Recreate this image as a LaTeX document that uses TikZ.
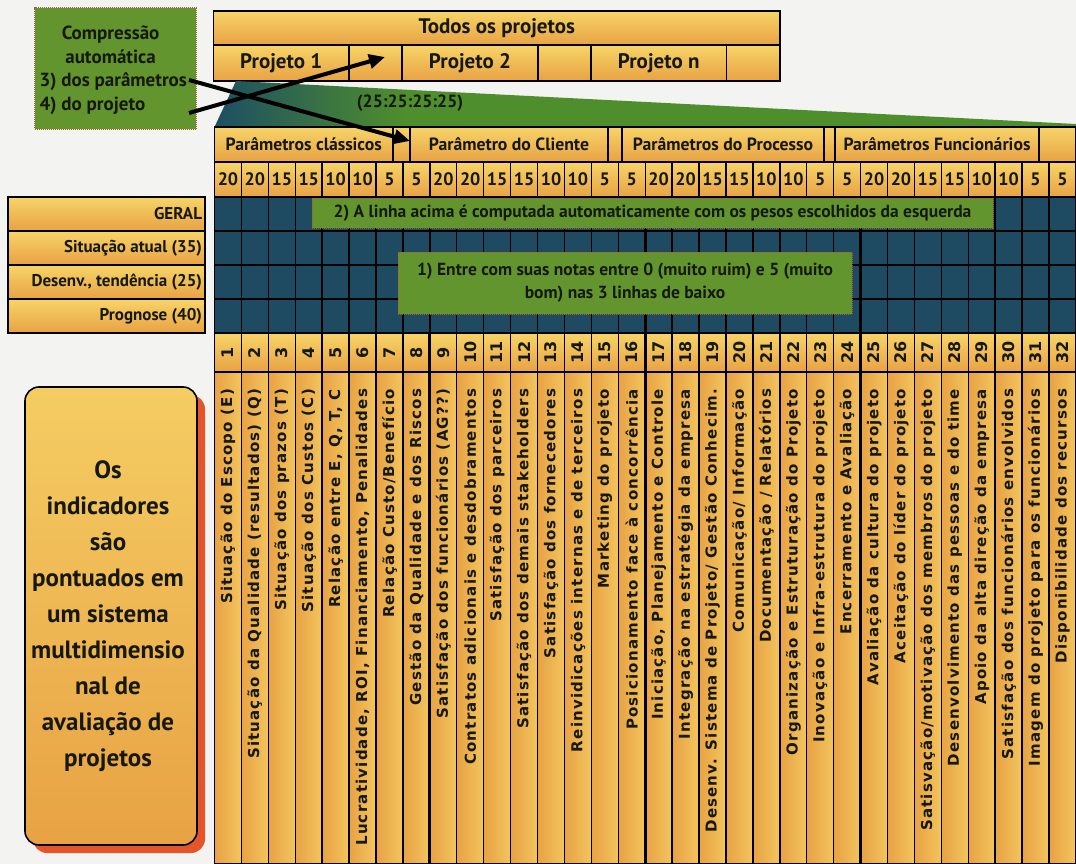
\documentclass[tikz,border=0pt]{standalone}
\usepackage{fontspec}
\setmainfont{PT Sans}
\newfontfamily\colfont[LetterSpace=8]{DejaVu Sans}
\newfontfamily\digitfont{DejaVu Sans}
\usetikzlibrary{arrows.meta,calc}

\definecolor{paper}{HTML}{F3F3F1}
\definecolor{gold}{HTML}{F7D468}
\definecolor{amber}{HTML}{E8A244}
\definecolor{gridblue}{HTML}{1E4A62}
\definecolor{leaf}{HTML}{63952F}
\definecolor{rust}{HTML}{B5563A}
\definecolor{deepteal}{HTML}{1C4F63}
\definecolor{grass}{HTML}{4F8E2C}
\definecolor{ember}{HTML}{E4562A}
\definecolor{ink}{HTML}{15180A}

% horizontal fade from deep teal into grass green for the wedge
\pgfdeclarehorizontalshading{wedgefade}{100bp}{color(0bp)=(deepteal); color(25bp)=(deepteal); color(36bp)=(grass); color(100bp)=(grass)}

\begin{document}
\begin{tikzpicture}[x=1pt,y=-1pt,
  every node/.style={inner sep=0pt, outer sep=0pt},
  goldcell/.style={draw=black, line width=1.4pt, top color=gold, bottom color=amber, anchor=north west},
  darkcell/.style={draw=black, line width=1.4pt, fill=gridblue, anchor=north west},
  colcell/.style={draw=black, line width=1.4pt, left color=amber, right color=gold!70!amber, anchor=north west},
  leafnote/.style={draw=rust, densely dotted, line width=1pt, fill=leaf, anchor=north west},
  notetext/.style={text=ink, font=\bfseries\fontsize{17.5}{23}\selectfont},
  headtext/.style={font=\bfseries\fontsize{21}{21}\selectfont, text=ink},
  paramtext/.style={font=\bfseries\fontsize{17.7}{17.7}\selectfont, text=ink},
  numtext/.style={font=\bfseries\fontsize{18}{18}\selectfont, text=ink},
  rowtext/.style={font=\bfseries\fontsize{17}{17}\selectfont, text=ink},
  coltext/.style={font=\colfont\bfseries\fontsize{15}{15}\selectfont, text=ink},
  idxtext/.style={font=\digitfont\bfseries\fontsize{16}{16}\selectfont, text=ink},
  pointer/.style={line width=4pt, -{Triangle[length=16pt,width=14pt]}},
]
\useasboundingbox (0,0) rectangle (1076,864);
\fill[paper] (0,0) rectangle (1076,864);

% ---------- project header ----------
\node[goldcell, minimum width=566.5, minimum height=34] (todos) at (213.5,11) {};
\node[headtext] (todoslbl) at (todos.center) {Todos os projetos};
\node[goldcell, minimum width=135.5, minimum height=36] (proj1) at (213.5,45) {};
\node[goldcell, minimum width=53, minimum height=36] (gap1) at (349,45) {};
\node[goldcell, minimum width=136, minimum height=36] (proj2) at (402,45) {};
\node[goldcell, minimum width=53, minimum height=36] (gap2) at (538,45) {};
\node[goldcell, minimum width=135.5, minimum height=36] (projn) at (591,45) {};
\node[goldcell, minimum width=53.5, minimum height=36] (gapn) at (726.5,45) {};
\node[headtext] at (proj1.center) {Projeto 1};
\node[headtext] at (proj2.center) {Projeto 2};
\node[headtext] at (projn.center) {Projeto n};

% ---------- wedge opening towards the parameters ----------
\shade[shading=wedgefade] (236,81) -- (1076,124) -- (1076,127) -- (214.5,127) -- cycle;
\node[paramtext] (ratio) at (410,103) {(25:25:25:25)};

% ---------- parameter groups ----------
\node[goldcell, minimum width=178.5, minimum height=35] (pclass) at (214.5,127) {};
\node[goldcell, minimum width=17, minimum height=35] (pgap1) at (393,127) {};
\node[goldcell, minimum width=198, minimum height=35] (pclient) at (410,127) {};
\node[goldcell, minimum width=14, minimum height=35] (pgap2) at (608,127) {};
\node[goldcell, minimum width=202, minimum height=35] (pproc) at (622,127) {};
\node[goldcell, minimum width=11, minimum height=35] (pgap3) at (824,127) {};
\node[goldcell, minimum width=204, minimum height=35] (pfunc) at (835,127) {};
\node[goldcell, minimum width=37, minimum height=35] (pgap4) at (1039,127) {};
\node[paramtext] at (pclass.center) {Parâmetros clássicos};
\node[paramtext] at (pclient.center) {Parâmetro do Cliente};
\node[paramtext] at (pproc.center) {Parâmetros do Processo};
\node[paramtext] at (pfunc.center) {Parâmetros Funcionários};

% ---------- weights ----------
\foreach \v [count=\i] in {20,20,15,15,10,10,5,5,20,20,15,15,10,10,5,5,20,20,15,15,10,10,5,5,20,20,15,15,10,10,5,5}{
  \pgfmathsetmacro\xa{214.5+(\i-1)*26.92}
  \node[goldcell, minimum width=26.92, minimum height=35] (w\i) at (\xa,162) {};
  \node[numtext] at (w\i.center) {\v};
}

% ---------- row captions ----------
\foreach \t [count=\r] in {GERAL,Situação atual (35),{Desenv., tendência (25)},Prognose (40)}{
  \pgfmathsetmacro\ya{197+(\r-1)*34}
  \node[goldcell, minimum width=197, minimum height=34] (row\r) at (8,\ya) {};
  \node[rowtext, anchor=east] at ($(row\r.east)+(-3,0)$) {\t};
}

% ---------- score grid ----------
\foreach \r in {1,...,4}{
  \foreach \i in {1,...,32}{
    \pgfmathsetmacro\xa{214.5+(\i-1)*26.92}
    \pgfmathsetmacro\ya{197+(\r-1)*34}
    \node[darkcell, minimum width=26.92, minimum height=34] (g\r-\i) at (\xa,\ya) {};
  }
}

% ---------- indicator numbers and names ----------
\foreach \t [count=\i] in {
  {Situação do Escopo (E)},
  {Situação da Qualidade (resultados) (Q)},
  {Situação dos prazos (T)},
  {Situação dos Custos (C)},
  {Relação entre E, Q, T, C},
  {Lucratividade, ROI, Financiamento, Penalidades},
  {Relação Custo/Benefício},
  {Gestão da Qualidade e dos Riscos},
  {Satisfação dos funcionários (AG??)},
  {Contratos adicionais e desdobramentos},
  {Satisfação dos parceiros},
  {Satisfação dos demais stakeholders},
  {Satisfação dos fornecedores},
  {Reinvidicações internas e de terceiros},
  {Marketing do projeto},
  {Posicionamento face à concorrência},
  {Iniciação, Planejamento e Controle},
  {Integração na estratégia da empresa},
  {Desenv. Sistema de Projeto/ Gestão Conhecim.},
  {Comunicação/ Informação},
  {Documentação / Relatórios},
  {Organização e Estruturação do Projeto},
  {Inovação e Infra-estrutura do projeto},
  {Encerramento e Avaliação},
  {Avaliação da cultura do projeto},
  {Aceitação do líder do projeto},
  {Satisvação/motivação dos membros do projeto},
  {Desenvolvimento das pessoas e do time},
  {Apoio da alta direção da empresa},
  {Satisfação dos funcionários envolvidos},
  {Imagem do projeto para os funcionários},
  {Disponibilidade dos recursos}}{
  \pgfmathsetmacro\xa{214.5+(\i-1)*26.92}
  \node[goldcell, minimum width=26.92, minimum height=39] (n\i) at (\xa,333) {};
  \node[idxtext, rotate=90] at (n\i.center) {\i};
  \node[colcell, minimum width=26.92, minimum height=492] (l\i) at (\xa,372) {};
  \node[coltext, rotate=90, anchor=east] (t\i) at ($(l\i.north)+(0,17)$) {\t};
}

% heavier rules between the four parameter groups
\foreach \k in {8,16,24}{
  \draw[line width=3.2pt] (n\k.north east) -- (l\k.south east);
  \draw[line width=2.6pt] (g1-\k.north east) -- (g4-\k.south east);
}

% ---------- notes on the grid ----------
\node[leafnote, minimum width=681, minimum height=30] (note2) at (312,198) {};
\node[notetext] at (note2.center) {2) A linha acima é computada automaticamente com os pesos escolhidos da esquerda};
\node[leafnote, minimum width=454, minimum height=62] (note1) at (398,252) {};
\node[notetext, align=center] at (note1.center) {1) Entre com suas notas entre 0 (muito ruim) e 5 (muito\\bom) nas 3 linhas de baixo};

% ---------- side caption ----------
\node[fill=ember, rounded corners=14pt, minimum width=172, minimum height=458, anchor=north west] (sideshadow) at (33,395) {};
\node[draw=black, line width=1.6pt, rounded corners=14pt, top color=gold!85!amber, bottom color=amber, minimum width=172, minimum height=458, anchor=north west] (side) at (25,387) {};
\node[font=\bfseries\fontsize{25}{36}\selectfont, text=ink, align=center] (sidetext) at (108,616) {Os\\indicadores\\são\\pontuados em\\um sistema\\multidimensio\\nal de\\avaliação de\\projetos};

% ---------- compression note and its pointers ----------
\node[leafnote, minimum width=161.5, minimum height=121.5] (comp) at (34.5,7.6) {};
\node[notetext, align=left, font=\bfseries\fontsize{19}{23.5}\selectfont] (comptext) at ($(comp.center)+(-2,2)$) {\makebox[142pt]{Compressão}\\\makebox[142pt]{automática}\\3) dos parâmetros\\4) do projeto};
\coordinate (from3) at (189,80);
\coordinate (from4) at (189,113);
\coordinate (tip4) at (385,57);
\draw[pointer] (from3) -- ($(pclient.north west)+(0,14)$);
\draw[pointer] (from4) -- (tip4);
\end{tikzpicture}
\end{document}
